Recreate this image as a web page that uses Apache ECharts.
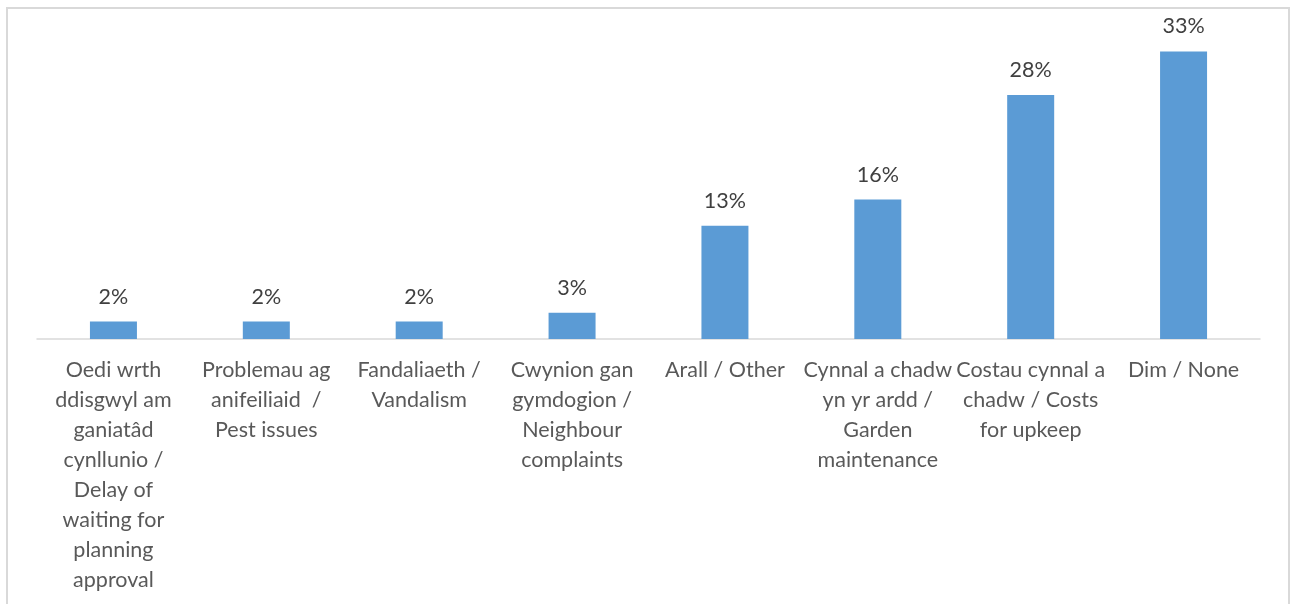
<!DOCTYPE html>
<html>
<head>
<meta charset="utf-8">
<script src="https://cdn.jsdelivr.net/npm/echarts@6/dist/echarts.min.js"></script>
<style>
  html, body { margin: 0; padding: 0; background: #fff; }
  #chart { width: 1295px; height: 604px; }
</style>
</head>
<body>
<div id="chart"></div>
<script>
// Categories (Welsh / English), with line breaks as laid out under the axis
const categories = [
  'Oedi wrth\nddisgwyl am\nganiatâd\ncynllunio /\nDelay of\nwaiting for\nplanning\napproval',
  'Problemau ag\nanifeiliaid  /\nPest issues',
  'Fandaliaeth /\nVandalism',
  'Cwynion gan\ngymdogion /\nNeighbour\ncomplaints',
  'Arall / Other',
  'Cynnal a chadw\nyn yr ardd /\nGarden\nmaintenance',
  'Costau cynnal a\nchadw / Costs\nfor upkeep',
  'Dim / None'
];
// Share of respondents, percent
const percentages = [2, 2, 2, 3, 13, 16, 28, 33];

const chart = echarts.init(document.getElementById('chart'));
chart.setOption({
  animation: false,
  textStyle: { fontFamily: 'Lato, "Open Sans", sans-serif' },
  graphic: [{
    type: 'rect',
    shape: { x: 7, y: 8, width: 1282, height: 700 },
    style: { fill: 'none', stroke: '#d9d9d9', lineWidth: 2 },
    silent: true
  }],
  grid: { left: 37, right: 35, top: 34, bottom: 265, containLabel: false },
  xAxis: {
    type: 'category',
    data: categories,
    axisLine: { lineStyle: { color: '#d9d9d9', width: 1.5 } },
    axisTick: { show: false },
    axisLabel: {
      interval: 0,
      margin: 16,
      color: '#595959',
      fontSize: 21.5,
      lineHeight: 30,
      align: 'center'
    }
  },
  yAxis: {
    type: 'value',
    min: 0,
    max: 35,
    show: false,
    splitLine: { show: false }
  },
  series: [{
    type: 'bar',
    data: percentages,
    barWidth: 47,
    itemStyle: { color: '#5b9bd5' },
    label: {
      show: true,
      position: 'top',
      distance: 14,
      color: '#404040',
      fontSize: 21.5,
      formatter: p => p.value + '%'
    }
  }]
});
</script>
</body>
</html>
